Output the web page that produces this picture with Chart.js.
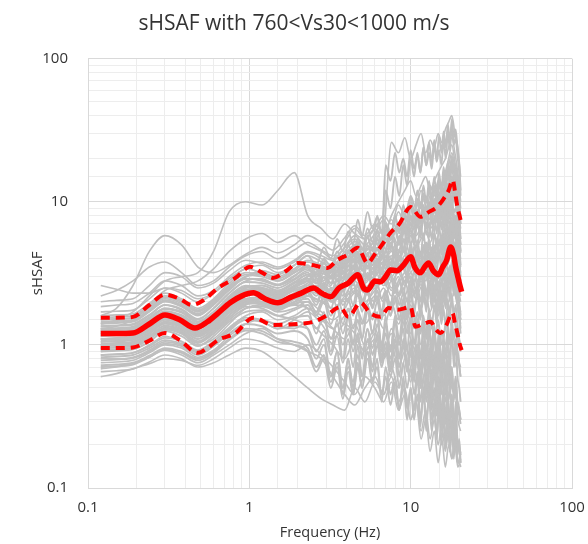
<!DOCTYPE html>
<html>
<head>
<meta charset="utf-8">
<script src="https://cdn.jsdelivr.net/npm/chart.js@4.4.0/dist/chart.umd.min.js"></script>
<style>
  html, body { margin: 0; padding: 0; background: #ffffff; }
  #wrap { width: 588px; height: 544px; }
</style>
</head>
<body>
<div id="wrap"><canvas id="chart" width="588" height="544"></canvas></div>
<script>

// frequency grid shared by the smoother individual (gray) curves, Hz
var freq = [0.12, 0.15, 0.19, 0.24, 0.30, 0.38, 0.48, 0.60, 0.75, 0.95, 1.2, 1.5, 1.9, 2.3, 2.8, 3.3, 3.9, 4.5, 5.2, 6.0,
	6.8, 7.6, 8.4, 9.2, 10.0, 10.8, 11.6, 12.4, 13.2, 14.0, 14.8, 15.6, 16.4, 17.2, 18.0, 18.8, 19.6, 20.4];

// individual site curves (sHSAF) on freq
var curves = [
	[0.60,0.63,0.68,0.74,0.80,0.78,0.72,0.80,0.95,1.10,1.05,0.95,0.90,1.0,0.85,0.70,0.55,0.45,0.60,0.50,0.40,0.55,0.35,0.45,0.30,0.40,0.25,0.35,0.22,0.30,0.20,0.28,0.18,0.25,0.16,0.22,0.15,0.18],
	[0.68,0.70,0.74,0.82,0.92,0.85,0.75,0.85,1.0,1.2,1.3,1.1,1.0,0.9,0.8,0.6,0.45,0.38,0.5,0.6,0.45,0.7,0.5,0.8,0.55,0.9,0.6,0.45,0.7,0.4,0.6,0.35,0.5,0.3,0.45,0.28,0.4,0.3],
	[0.75,0.76,0.78,0.88,1.0,0.95,0.82,0.92,1.15,1.4,1.5,1.35,1.3,1.45,1.2,1.0,0.8,1.1,0.9,1.2,0.8,1.3,1.0,1.5,1.1,0.9,1.3,0.8,1.2,0.7,1.0,0.65,0.9,0.8,1.1,0.7,0.9,0.6],
	[0.85,0.86,0.88,1.0,1.15,1.05,0.90,1.0,1.3,1.6,1.7,1.5,1.6,1.8,1.5,1.3,1.6,1.9,1.4,1.7,1.3,1.9,1.5,2.2,1.6,1.3,1.8,1.2,1.6,1.1,1.5,1.0,1.4,1.7,2.0,1.5,1.2,1.0],
	[0.90,0.92,0.95,1.1,1.3,1.2,1.0,1.1,1.4,1.8,1.9,1.7,1.8,2.0,1.7,1.5,1.8,2.3,1.9,2.5,2.0,2.8,2.2,3.0,2.6,2.1,2.9,2.3,3.2,2.5,2.2,2.8,3.3,3.8,4.5,3.5,2.6,2.0],
	[0.95,0.97,1.0,1.15,1.35,1.25,1.05,1.2,1.55,1.9,2.1,2.0,1.9,2.2,2.0,1.8,2.2,2.8,2.3,2.6,3.0,2.4,3.5,2.8,4.0,3.0,2.5,3.4,2.9,3.6,2.7,3.1,3.9,4.8,5.5,4.2,3.2,2.5],
	[1.0,1.02,1.05,1.2,1.4,1.3,1.1,1.3,1.7,2.0,1.9,1.8,2.1,2.4,2.2,2.0,2.5,3.1,2.5,3.0,3.6,4.5,3.8,5.0,6.0,4.5,4.0,5.2,4.6,4.0,4.8,5.5,6.2,7.5,9.0,7.0,5.0,3.5],
	[1.05,1.07,1.1,1.3,1.5,1.4,1.2,1.4,1.8,2.1,2.0,1.8,2.0,2.3,2.5,2.2,2.0,2.4,1.8,2.2,1.6,2.0,1.4,1.8,1.2,1.6,1.0,1.4,0.9,1.3,0.8,1.2,1.0,1.5,1.3,1.0,0.8,0.7],
	[1.1,1.1,1.12,1.3,1.55,1.45,1.25,1.45,1.85,2.2,2.4,2.2,2.5,2.8,2.6,2.4,2.9,3.4,2.8,3.3,3.8,3.2,4.2,3.5,4.6,3.8,4.4,5.0,4.2,3.6,4.3,5.0,5.8,6.5,7.8,6.0,4.5,3.2],
	[1.15,1.16,1.18,1.35,1.6,1.5,1.3,1.55,1.95,2.3,2.2,2.0,2.3,2.6,2.4,2.0,2.6,3.0,2.4,2.0,2.5,1.8,2.2,1.5,1.9,1.4,1.7,1.2,1.6,1.1,1.4,1.0,1.3,1.6,1.9,1.4,1.1,0.9],
	[1.2,1.2,1.22,1.4,1.65,1.55,1.35,1.6,2.0,2.4,2.3,2.1,2.5,2.9,2.6,2.3,2.9,3.5,3.0,3.6,4.2,5.5,4.6,6.5,7.5,5.8,6.8,8.0,6.5,7.2,8.5,9.5,11.0,13.0,15.0,11.0,8.0,5.0],
	[1.25,1.26,1.28,1.45,1.7,1.6,1.4,1.65,2.1,2.5,2.6,2.4,2.7,3.1,2.8,2.5,3.1,3.6,2.9,3.3,2.6,3.0,2.3,2.8,2.0,2.5,1.8,2.3,1.7,2.1,1.6,2.0,2.4,2.8,3.2,2.5,1.9,1.5],
	[1.3,1.3,1.32,1.55,1.8,1.7,1.45,1.7,2.2,2.6,2.5,2.3,2.6,3.0,3.3,2.9,3.5,4.2,3.5,4.0,4.8,4.0,5.2,4.4,5.8,4.8,5.5,6.2,5.2,6.0,5.0,5.8,6.8,8.0,9.5,7.5,5.5,4.0],
	[1.35,1.36,1.38,1.6,1.9,1.75,1.5,1.8,2.3,2.8,2.9,2.6,2.9,3.3,3.0,2.7,3.3,3.9,3.2,2.7,3.3,2.5,3.0,2.2,2.8,2.1,2.5,1.9,2.4,1.8,2.2,1.7,2.1,2.6,3.0,2.3,1.8,1.4],
	[1.4,1.42,1.45,1.7,2.0,1.85,1.6,1.9,2.4,2.9,2.8,2.6,3.0,3.5,3.2,2.9,3.6,4.3,3.7,4.5,5.5,8.0,10.0,12.0,14.0,11.0,13.0,15.0,12.0,14.0,16.0,18.0,20.0,24.0,28.0,22.0,16.0,10.0],
	[1.5,1.52,1.55,1.8,2.1,1.95,1.7,2.0,2.5,3.0,3.2,2.9,3.3,3.8,3.4,3.0,3.8,4.6,3.8,4.4,3.6,4.2,3.2,3.8,2.9,3.5,2.6,3.2,2.4,3.0,2.3,2.8,3.4,4.0,4.6,3.6,2.8,2.2],
	[1.6,1.62,1.65,1.95,2.3,2.1,1.8,2.1,2.7,3.2,3.1,2.9,3.4,3.9,3.6,3.2,4.0,4.9,4.2,5.0,6.2,26.0,22.0,28.0,20.0,25.0,30.0,22.0,27.0,24.0,30.0,26.0,32.0,36.0,40.0,30.0,24.0,15.0],
	[1.7,1.72,1.75,2.1,2.5,2.3,2.0,2.3,2.9,3.4,3.6,3.2,3.6,4.2,3.8,3.4,4.2,5.0,4.2,4.8,4.0,4.6,3.6,4.2,3.2,3.8,2.9,3.6,2.7,3.4,2.6,3.2,3.8,4.5,5.2,4.0,3.1,2.4],
	[1.85,1.9,1.95,2.3,2.8,2.6,2.2,2.4,3.0,3.6,3.8,3.5,3.9,4.5,4.2,3.9,4.8,5.8,5.0,6.0,7.5,6.2,8.5,7.0,10.0,8.0,9.5,11.0,9.0,12.0,10.0,13.0,15.0,18.0,22.0,17.0,12.0,8.0],
	[2.0,2.05,2.1,2.6,3.2,3.0,2.5,2.7,3.3,3.9,3.7,3.4,3.8,4.4,4.0,3.6,4.5,5.3,4.5,5.2,4.4,5.0,4.0,4.6,3.6,4.2,3.3,4.0,3.0,3.8,2.9,3.6,4.3,5.0,5.8,4.5,3.5,2.7],
	[2.2,2.4,2.8,3.5,3.8,3.2,2.6,2.8,3.5,4.2,4.5,4.0,4.6,5.2,4.6,4.2,5.2,6.5,5.5,6.5,8.0,7.0,9.5,8.0,11.0,9.0,12.0,10.0,13.0,11.0,14.0,12.0,16.0,20.0,25.0,19.0,14.0,9.0],
	[2.6,2.45,2.3,2.3,2.5,2.4,2.1,2.3,2.8,3.4,3.2,3.0,3.4,3.8,3.5,3.1,3.8,4.4,3.7,3.2,3.8,3.0,3.5,2.7,3.2,2.5,3.0,2.3,2.8,2.2,2.6,2.0,2.5,3.0,3.5,2.7,2.1,1.7],
	[1.6,1.8,2.6,4.5,5.8,5.0,3.5,3.2,3.6,4.3,4.8,4.4,5.0,5.8,5.2,4.6,5.6,6.8,5.8,7.0,6.0,7.5,6.2,8.0,6.5,8.5,7.0,9.0,7.5,9.5,8.0,10.0,11.0,13.0,15.0,12.0,9.0,6.5],
	[1.4,1.5,1.7,2.2,2.8,3.0,3.2,4.5,8.5,10.0,9.5,12.0,16.0,8.0,6.5,5.5,7.0,6.0,5.5,6.5,5.0,6.0,4.5,5.5,4.0,5.0,3.6,4.5,3.3,4.2,3.0,3.8,4.5,5.2,6.0,4.8,3.6,2.8],
	[1.3,1.35,1.5,1.9,2.4,2.6,2.8,3.4,4.5,5.5,6.0,5.2,5.8,5.0,4.5,4.0,4.8,5.5,4.6,5.4,6.5,5.5,7.0,6.0,8.0,6.5,7.5,9.0,7.0,8.5,7.5,9.0,10.5,12.0,14.0,11.0,8.0,5.5],
	[0.65,0.66,0.68,0.76,0.85,0.80,0.70,0.75,0.85,0.95,0.9,0.75,0.6,0.5,0.42,0.38,0.35,0.5,0.4,0.55,0.45,0.6,0.4,0.5,0.3,0.4,0.22,0.3,0.18,0.25,0.15,0.22,0.14,0.2,0.16,0.2,0.14,0.16],
	[0.8,0.8,0.82,0.92,1.05,1.0,0.88,1.0,1.25,1.5,1.45,1.3,1.5,1.7,1.4,1.1,1.4,1.2,0.9,1.1,0.8,1.0,0.7,0.9,0.6,0.8,0.5,0.7,0.45,0.6,0.4,0.55,0.45,0.6,0.5,0.45,0.38,0.3],
	[1.0,1.0,1.03,1.2,1.45,1.35,1.15,1.35,1.7,2.0,2.2,2.1,2.4,2.2,2.0,1.8,2.1,2.5,2.0,2.4,2.8,2.2,2.6,3.2,2.5,3.0,3.6,2.8,3.3,2.6,3.0,3.5,4.0,4.6,5.2,4.0,3.0,2.2],
	[1.2,1.21,1.24,1.42,1.68,1.58,1.36,1.58,2.0,2.35,2.2,2.0,2.2,2.5,2.3,2.1,2.6,3.0,2.5,3.0,3.5,2.8,3.2,2.6,3.0,2.4,2.8,2.2,2.6,2.0,2.4,1.9,2.3,2.7,3.1,2.4,1.9,1.5],
	[1.1,1.11,1.13,1.3,1.52,1.42,1.22,1.42,1.8,2.1,2.0,1.9,2.1,1.8,1.6,1.3,1.1,1.4,1.0,1.3,0.9,1.2,0.8,1.1,0.7,1.0,0.6,0.9,0.5,0.8,0.45,0.7,0.4,0.6,0.35,0.5,0.3,0.25],
	[0.95,0.96,0.98,1.12,1.3,1.22,1.05,1.25,1.6,1.95,2.0,1.85,2.1,2.5,2.3,2.0,2.6,3.2,2.7,3.4,4.2,6.0,5.0,7.0,9.0,7.0,10.0,8.0,11.0,9.0,12.0,10.0,13.0,16.0,20.0,15.0,11.0,7.0]
];

// finer grid for the noisier curves, Hz
var freqFine = [0.12, 0.15, 0.19, 0.24, 0.30, 0.38, 0.48, 0.60, 0.75, 0.95, 1.2, 1.5, 1.9,
	2.3, 2.6, 2.9, 3.2, 3.5, 3.8, 4.1, 4.4, 4.7, 5.0, 5.4, 5.8, 6.2, 6.6, 7.0, 7.5, 8.0, 8.5, 9.0, 9.5,
	10, 10.5, 11, 11.5, 12, 12.5, 13, 13.5, 14, 14.5, 15, 15.5, 16, 16.5, 17, 17.5, 18, 18.5, 19, 19.5, 20, 20.4];

// noisier site curves (sHSAF) on freqFine
var noisy = [
	[1.15,1.17,1.2,1.38,1.6,1.5,1.3,1.5,1.9,2.2,2.25,2.05,2.3, 2.5,2.2,2.7,2.3,2.9,2.4,3.1,2.6,3.3,2.8,3.6,2.9,3.9,3.1,4.2,3.4,4.6,3.5,4.8,3.8,5.2,3.9,4.6,3.6,5.0,3.8,5.3,4.1,4.7,3.9,5.5,4.3,6.0,4.6,6.8,5.2,7.5,5.5,6.0,4.2,3.5,2.8],
	[0.9,0.91,0.93,1.05,1.25,1.15,0.98,1.15,1.45,1.7,1.75,1.6,1.75, 1.9,1.6,2.0,1.4,1.8,1.2,1.6,1.0,1.5,1.1,1.7,1.2,1.6,1.0,1.4,0.9,1.5,1.1,1.8,1.2,1.6,1.0,1.5,0.8,1.3,0.9,1.4,0.7,1.2,0.8,1.3,0.7,1.1,0.8,1.4,1.0,1.5,1.1,1.3,0.9,0.7,0.6],
	[1.45,1.47,1.5,1.75,2.05,1.9,1.65,1.95,2.5,3.0,3.1,2.8,3.2, 3.5,3.0,3.8,3.2,4.2,3.5,4.6,3.8,5.2,4.2,5.8,4.5,6.2,5.0,7.0,5.5,7.8,6.0,8.5,6.5,9.5,7.0,10.5,7.5,11.5,8.5,12.5,9.0,13.0,9.5,14.0,10.5,15.5,11.0,17.0,12.5,19.0,14.0,16.0,12.0,9.0,7.0],
	[0.78,0.79,0.81,0.9,1.02,0.98,0.85,0.98,1.2,1.4,1.35,1.2,1.25, 1.1,0.8,1.0,0.6,0.9,0.5,0.8,0.45,0.7,0.5,0.9,0.55,0.8,0.4,0.7,0.45,0.6,0.35,0.55,0.3,0.5,0.35,0.6,0.3,0.45,0.25,0.5,0.3,0.4,0.22,0.45,0.25,0.38,0.2,0.35,0.18,0.3,0.2,0.28,0.17,0.22,0.15],
	[1.05,1.06,1.08,1.25,1.45,1.38,1.18,1.38,1.75,2.05,2.0,1.85,2.1, 2.2,2.6,2.0,2.5,1.8,2.4,2.0,2.8,2.2,3.0,2.4,3.2,2.5,3.4,2.6,3.0,2.3,2.9,2.2,3.1,2.4,3.3,2.5,3.6,2.7,3.2,2.4,3.0,2.2,2.8,2.0,2.9,2.3,3.2,2.6,3.6,2.8,3.4,2.5,2.2,1.8,1.5],
	[1.25,1.26,1.29,1.48,1.72,1.62,1.4,1.62,2.05,2.45,2.4,2.2,2.45, 2.7,3.1,2.6,3.3,2.8,3.6,3.0,3.9,3.2,4.3,3.4,4.0,3.5,4.6,3.8,5.2,4.2,5.8,4.6,6.5,5.0,6.0,4.8,6.8,5.4,7.2,5.6,7.8,6.2,8.5,6.5,9.0,7.0,10.0,8.0,11.5,9.0,12.5,9.5,8.0,6.0,4.5],
	[0.95,0.96,0.99,1.12,1.32,1.24,1.06,1.24,1.55,1.85,1.8,1.6,1.5, 1.3,0.9,1.1,0.6,0.9,0.45,0.8,0.5,1.0,0.6,1.1,0.7,1.2,0.8,1.4,0.9,1.6,1.0,1.3,0.7,1.1,0.6,1.0,0.5,0.9,0.45,0.8,0.4,0.7,0.35,0.6,0.3,0.55,0.28,0.5,0.25,0.45,0.22,0.4,0.2,0.18,0.15],
	[1.3,1.31,1.34,1.55,1.8,1.7,1.46,1.7,2.15,2.55,2.5,2.3,2.6, 2.9,2.5,3.2,2.7,3.5,2.9,3.8,3.1,4.1,3.3,4.4,3.4,4.0,3.2,4.6,3.6,5.0,3.9,5.5,4.2,4.8,3.8,5.4,4.1,6.0,4.4,5.5,4.0,6.2,4.6,6.8,5.0,7.5,5.6,8.5,6.2,9.5,7.0,8.0,6.0,4.8,3.6],
	[1.55,1.57,1.6,1.88,2.2,2.05,1.75,2.05,2.6,3.1,3.0,2.8,3.2, 3.6,3.2,4.0,3.5,4.5,3.9,5.0,4.2,5.6,4.6,6.5,5.2,8.0,6.0,12.0,9.0,15.0,11.0,18.0,13.0,20.0,15.0,22.0,16.0,24.0,18.0,26.0,19.0,27.0,20.0,29.0,22.0,31.0,24.0,35.0,26.0,38.0,28.0,32.0,24.0,18.0,12.0],
	[0.85,0.86,0.88,0.98,1.12,1.06,0.92,1.06,1.32,1.55,1.5,1.4,1.55, 1.6,1.3,1.5,1.1,1.4,1.0,1.3,0.9,1.2,0.85,1.3,0.95,1.4,1.0,1.2,0.8,1.1,0.7,1.0,0.65,0.9,0.6,1.0,0.65,0.85,0.55,0.95,0.6,0.8,0.5,0.9,0.55,0.75,0.45,0.8,0.5,0.7,0.45,0.6,0.4,0.35,0.3],
	[1.2,1.22,1.25,1.45,1.7,1.6,1.38,1.6,2.0,2.4,2.5,2.35,2.7, 3.0,3.4,2.8,3.6,3.0,3.9,3.3,4.2,3.5,3.0,3.8,3.2,4.0,3.4,3.0,3.8,3.2,4.2,3.5,3.0,4.0,3.4,4.5,3.6,3.0,4.2,3.5,4.8,3.8,3.2,4.4,3.6,5.0,4.0,5.6,4.4,6.2,4.8,5.2,4.0,3.2,2.6],
	[1.1,1.12,1.15,1.32,1.55,1.46,1.25,1.46,1.85,2.2,2.3,2.2,2.5, 2.8,2.4,3.0,2.6,3.3,2.8,3.6,3.0,3.9,3.3,4.2,3.6,4.8,4.0,5.6,4.6,6.5,5.2,7.2,5.8,8.0,6.4,8.8,7.0,9.5,7.5,10.0,8.0,10.5,8.5,11.5,9.0,12.5,9.8,13.5,10.5,14.5,11.0,12.0,9.5,7.5,5.5],
	[0.72,0.73,0.75,0.84,0.95,0.9,0.8,0.9,1.1,1.3,1.25,1.1,1.05, 0.95,0.7,0.85,0.55,0.75,0.5,0.7,0.55,0.85,0.6,0.9,0.65,1.0,0.7,0.9,0.6,0.8,0.5,0.75,0.5,0.7,0.45,0.65,0.4,0.6,0.4,0.55,0.35,0.5,0.32,0.45,0.3,0.42,0.28,0.4,0.26,0.38,0.24,0.32,0.22,0.2,0.17],
	[1.0,1.01,1.04,1.2,1.42,1.33,1.14,1.33,1.68,2.0,2.1,1.95,2.2, 2.4,2.0,2.6,2.1,2.8,2.2,3.0,2.3,2.7,2.0,2.5,1.8,2.4,1.7,2.3,1.6,2.2,1.5,2.1,1.5,2.3,1.6,2.5,1.7,2.6,1.8,2.8,1.9,2.6,1.7,2.4,1.6,2.5,1.8,2.9,2.0,3.2,2.2,2.6,1.9,1.5,1.2],
	[1.5,1.52,1.55,1.82,2.15,2.0,1.72,2.0,2.55,3.0,3.3,3.1,3.6, 4.2,3.6,4.8,4.0,5.5,4.5,6.2,5.0,7.5,5.8,8.5,6.5,7.8,6.0,7.0,5.5,6.5,5.0,6.8,5.2,7.2,5.5,7.8,6.0,8.5,6.5,9.0,7.0,9.5,7.2,10.0,7.5,11.0,8.0,12.0,9.0,13.5,10.0,11.0,8.5,6.5,5.0],
	[0.92,0.93,0.96,1.1,1.28,1.2,1.03,1.2,1.5,1.8,1.85,1.75,1.95, 2.0,1.7,2.1,1.6,1.9,1.4,1.8,1.3,1.7,1.4,1.9,1.5,2.0,1.5,2.1,1.6,2.2,1.7,2.0,1.5,1.8,1.3,1.7,1.2,1.6,1.1,1.8,1.3,1.9,1.4,2.0,1.4,1.8,1.3,2.1,1.5,2.3,1.6,1.9,1.4,1.1,0.9],
	[1.18,1.19,1.22,1.4,1.64,1.54,1.33,1.55,1.95,2.3,2.35,2.15,2.4, 2.6,2.9,2.4,3.0,2.5,3.3,2.7,3.5,2.9,2.4,3.2,2.6,3.6,2.9,3.9,3.0,4.3,3.2,4.0,3.1,4.6,3.4,4.2,3.2,4.8,3.6,4.4,3.3,5.0,3.7,4.5,3.4,5.2,3.9,5.8,4.3,6.4,4.8,5.0,3.8,3.0,2.4],
	[1.08,1.09,1.11,1.28,1.5,1.4,1.2,1.4,1.78,2.1,2.15,1.95,2.15, 2.3,1.9,2.5,2.0,2.2,1.7,2.4,1.9,2.6,2.0,2.3,1.8,2.7,2.1,2.4,1.9,2.8,2.2,2.5,2.0,2.9,2.2,2.6,2.0,3.0,2.3,2.7,2.1,3.1,2.4,2.8,2.1,3.2,2.5,3.5,2.7,3.9,3.0,3.2,2.5,2.0,1.6],
	[1.35,1.37,1.4,1.62,1.9,1.78,1.52,1.8,2.3,2.75,2.7,2.5,2.85, 3.2,2.8,3.5,3.0,3.8,3.2,4.1,3.5,4.5,3.8,5.0,4.1,5.5,4.4,6.0,4.8,6.5,5.1,7.0,5.4,6.4,5.0,7.2,5.6,7.8,5.9,7.0,5.5,8.0,6.0,8.6,6.4,9.2,7.0,10.0,7.6,11.0,8.4,9.0,7.0,5.6,4.4],
	[0.98,0.99,1.01,1.16,1.36,1.28,1.1,1.28,1.62,1.92,1.95,1.8,1.9, 1.8,1.2,1.7,0.9,1.5,0.8,1.6,1.0,1.8,1.1,1.9,1.2,1.7,0.9,1.6,0.7,1.5,0.8,1.7,0.9,1.6,0.7,1.4,0.6,1.5,0.7,1.6,0.8,1.4,0.6,1.3,0.55,1.2,0.5,1.3,0.6,1.4,0.7,1.1,0.6,0.5,0.4],
	[1.28,1.29,1.32,1.52,1.78,1.68,1.44,1.68,2.12,2.5,2.6,2.4,2.75, 3.1,2.7,3.4,2.9,3.7,3.1,4.0,3.4,4.4,3.7,4.9,4.0,5.6,4.6,6.8,5.4,8.0,6.2,9.5,7.2,11.0,8.2,12.0,9.0,13.0,9.8,14.0,10.5,15.0,11.0,16.0,12.0,17.5,13.0,19.0,14.5,21.0,16.0,18.0,14.0,10.0,7.5],
	[0.82,0.83,0.85,0.95,1.08,1.02,0.9,1.02,1.28,1.5,1.45,1.3,1.35, 1.3,1.0,1.25,0.85,1.15,0.75,1.1,0.7,1.2,0.8,1.3,0.85,1.15,0.75,1.05,0.65,1.0,0.6,1.1,0.65,0.95,0.55,0.9,0.5,1.0,0.55,0.85,0.48,0.9,0.5,0.8,0.45,0.85,0.5,0.75,0.42,0.7,0.4,0.6,0.38,0.32,0.28],
	[1.22,1.23,1.26,1.45,1.7,1.6,1.37,1.6,2.02,2.4,2.45,2.25,2.55, 2.8,3.2,2.6,3.4,2.8,3.7,3.0,4.0,3.2,3.6,2.9,3.9,3.1,4.3,3.4,4.0,3.2,4.6,3.6,4.2,3.4,4.9,3.8,4.5,3.5,5.2,4.0,4.8,3.7,5.5,4.2,5.0,3.9,5.8,4.5,6.5,5.0,7.2,5.6,4.8,3.8,3.0],
	[1.02,1.03,1.05,1.22,1.43,1.34,1.15,1.34,1.7,2.0,1.95,1.8,2.0, 2.1,1.7,2.2,1.8,2.4,1.9,2.1,1.6,2.3,1.7,2.5,1.9,2.2,1.6,2.4,1.8,2.6,1.9,2.3,1.7,2.5,1.8,2.2,1.5,2.4,1.7,2.6,1.8,2.3,1.6,2.5,1.7,2.7,1.9,3.0,2.1,3.3,2.3,2.7,2.0,1.6,1.3],
	[1.42,1.44,1.47,1.72,2.02,1.88,1.62,1.92,2.45,2.9,2.85,2.65,3.05, 3.4,3.0,3.7,3.2,4.1,3.5,4.5,3.8,5.0,4.2,5.6,4.6,6.4,5.2,18.0,14.0,22.0,16.0,20.0,15.0,23.0,17.0,21.0,16.0,24.0,18.0,22.0,17.0,25.0,19.0,23.0,18.0,27.0,20.0,30.0,23.0,34.0,25.0,28.0,21.0,16.0,11.0],
	[0.7,0.71,0.73,0.82,0.93,0.88,0.78,0.88,1.08,1.26,1.2,1.05,1.0, 0.9,0.65,0.8,0.5,0.7,0.42,0.65,0.45,0.75,0.5,0.8,0.55,0.7,0.45,0.6,0.38,0.55,0.35,0.6,0.36,0.5,0.3,0.45,0.27,0.5,0.3,0.42,0.25,0.38,0.22,0.35,0.2,0.32,0.19,0.3,0.18,0.27,0.16,0.24,0.15,0.15,0.14]
];

// median (red solid)
var medFreq = [0.12,0.15,0.19,0.24,0.30,0.37,0.46,0.55,0.64,0.76,0.9,1.06,1.25,1.5,1.8,2.1,2.5,2.8,3.2,3.6,4.1,4.7,5.1,5.4,6.0,6.5,7.0,7.5,8.2,9.0,10.0,10.6,11.5,12.2,12.9,13.8,14.9,15.8,16.7,17.7,18.5,19.0,19.6,20.2,20.7];
var medVal = [1.2,1.2,1.21,1.4,1.62,1.5,1.31,1.45,1.67,1.97,2.2,2.31,2.1,1.97,2.15,2.3,2.5,2.3,2.17,2.5,2.7,3.09,2.5,2.42,2.8,2.76,3.0,3.34,3.3,3.6,4.13,3.5,3.19,3.5,3.74,3.3,3.09,3.5,3.9,4.84,4.2,3.51,3.0,2.6,2.35];

// median + 1 sigma (red dashed)
var upFreq = [0.12,0.15,0.19,0.24,0.30,0.37,0.44,0.52,0.64,0.82,1.01,1.2,1.4,1.7,2.0,2.5,3.05,3.5,4.1,4.7,5.4,6.0,6.5,7.5,8.5,10.0,11.5,13.0,14.6,16.0,17.2,18.2,19.0,19.5,20.2,20.7];
var upVal = [1.55,1.55,1.57,1.9,2.24,2.1,1.9,2.05,2.5,2.94,3.51,3.2,2.94,3.3,3.74,3.6,3.45,3.9,4.3,4.77,3.74,4.3,4.84,6.07,7.0,9.2,7.85,8.5,9.2,10.5,12.0,14.2,11.0,9.2,7.8,6.9];

// median - 1 sigma (red dashed)
var loFreq = [0.12,0.15,0.19,0.24,0.30,0.37,0.48,0.55,0.64,0.82,1.06,1.4,2.0,2.5,3.0,3.67,4.1,4.9,5.6,6.5,7.3,8.3,10.0,10.7,12.0,13.3,14.2,15.3,16.5,18.2,18.8,19.5,20.2,20.7];
var loVal = [0.95,0.95,0.96,1.07,1.21,1.08,0.88,0.95,1.08,1.21,1.55,1.38,1.4,1.45,1.6,1.84,1.57,1.97,1.67,1.57,1.81,1.76,1.84,1.34,1.4,1.45,1.3,1.21,1.35,1.67,1.42,1.2,1.0,0.92];

var decadeTicks = [0.1, 1, 10, 100];

function toPoints(xs, ys){
	return xs.map(function(x, i){ return {x: x, y: ys[i]}; });
}

function isDecade(v){
	var l = Math.log10(v);
	return Math.abs(l - Math.round(l)) < 1e-6;
}

var datasets = [
	{ data: toPoints(medFreq, medVal), borderColor: '#ff0000', borderWidth: 5.5, cubicInterpolationMode: 'monotone' },
	{ data: toPoints(upFreq, upVal), borderColor: '#ff0000', borderWidth: 4, borderDash: [9, 6], cubicInterpolationMode: 'monotone' },
	{ data: toPoints(loFreq, loVal), borderColor: '#ff0000', borderWidth: 4, borderDash: [9, 6], cubicInterpolationMode: 'monotone' }
];

curves.forEach(function(c){
	datasets.push({ data: toPoints(freq, c), borderColor: '#bfbfbf', borderWidth: 1.6, cubicInterpolationMode: 'monotone' });
});
noisy.forEach(function(c){
	datasets.push({ data: toPoints(freqFine, c), borderColor: '#bfbfbf', borderWidth: 1.9, cubicInterpolationMode: 'monotone' });
});

var gridColor = function(ctx){
	if (!ctx.tick) { return '#ededed'; }
	return isDecade(ctx.tick.value) ? '#d9d9d9' : '#ededed';
};

var tickLabel = function(v){
	for (var i = 0; i < decadeTicks.length; i++) {
		if (Math.abs(v - decadeTicks[i]) < 1e-9 * decadeTicks[i] + 1e-12) { return String(decadeTicks[i]); }
	}
	return '';
};

var fontFam = "'Open Sans', 'Noto Sans', sans-serif";

new Chart(document.getElementById('chart'), {
	type: 'line',
	data: { datasets: datasets },
	options: {
		responsive: false,
		animation: false,
		devicePixelRatio: 1,
		layout: { padding: 0 },
		elements: { point: { radius: 0, hoverRadius: 0 }, line: { fill: false } },
		plugins: {
			legend: { display: false },
			tooltip: { enabled: false },
			title: {
				display: true,
				text: 'sHSAF with 760<Vs30<1000 m/s',
				color: '#333333',
				font: { family: fontFam, size: 21, weight: 'normal' },
				padding: { top: 11, bottom: 22.5 }
			}
		},
		scales: {
			x: {
				type: 'logarithmic',
				min: 0.1,
				max: 100,
				border: { color: '#d9d9d9' },
				grid: { color: gridColor, drawTicks: true, tickLength: 11, tickColor: 'rgba(0,0,0,0)' },
				ticks: { autoSkip: false, maxRotation: 0, padding: 0, color: '#333333', font: { family: fontFam, size: 15 }, callback: tickLabel },
				title: { display: true, text: 'Frequency (Hz)', color: '#333333', font: { family: fontFam, size: 14.5 }, padding: { top: 4, bottom: 2 } },
				afterFit: function(s){ s.height = 56; s.paddingRight = 16; }
			},
			y: {
				type: 'logarithmic',
				min: 0.1,
				max: 100,
				border: { color: '#d9d9d9' },
				grid: { color: gridColor, drawTicks: false },
				ticks: { autoSkip: false, padding: 20, color: '#333333', font: { family: fontFam, size: 15 }, callback: tickLabel },
				title: { display: true, text: 'sHSAF', color: '#333333', font: { family: fontFam, size: 15 }, padding: { top: 29, bottom: 0 } },
				afterFit: function(s){ s.width = 88; }
			}
		}
	}
});

</script>
</body>
</html>
